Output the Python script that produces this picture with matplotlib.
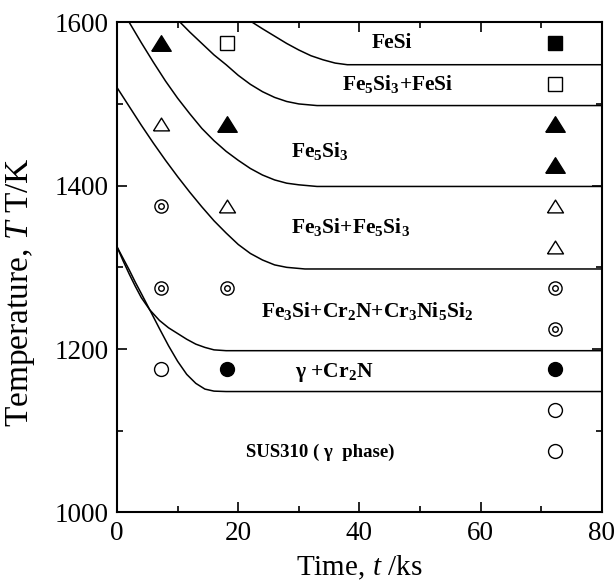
import numpy as np
import matplotlib
matplotlib.use("Agg")
import matplotlib.pyplot as plt

plt.rcParams['font.family'] = ['Liberation Serif', 'DejaVu Serif']
plt.rcParams['mathtext.fontset'] = 'custom'
plt.rcParams['mathtext.rm'] = 'Liberation Serif'
plt.rcParams['mathtext.it'] = 'Liberation Serif:italic'
plt.rcParams['mathtext.bf'] = 'Liberation Serif:bold'

# phase boundary curves (time ks, temperature K)
b1_t = [22.3, 24, 26, 28, 30, 32, 34, 36, 38, 80]
b1_T = [1600, 1592, 1583, 1574, 1566, 1559, 1554, 1550, 1548, 1548]

b2_t = [10.4, 12, 14, 16, 18, 20, 22, 24, 26, 28, 30, 33, 80]
b2_T = [1600, 1588, 1574, 1560, 1548, 1535, 1524, 1515, 1508, 1503, 1500, 1498, 1498]

b3_t = [2, 4, 6, 8, 10, 12, 14, 16, 18, 20, 22, 24, 26, 28, 30, 33, 80]
b3_T = [1600, 1575, 1551, 1528, 1507, 1488, 1470, 1455, 1442, 1431, 1421, 1413, 1407, 1403, 1401, 1399, 1399]

b4_t = [0, 2, 4, 6, 8, 10, 12, 14, 16, 18, 20, 22, 24, 26, 28, 31, 80]
b4_T = [1520, 1497, 1474, 1452, 1431, 1411, 1392, 1374, 1357, 1342, 1328, 1317, 1309, 1303, 1300, 1298, 1298]

b5_t = [0, 1, 2, 3, 4, 5.4, 7, 8.5, 10, 11.5, 13, 14.5, 16, 18, 80]
b5_T = [1325, 1308, 1292, 1277, 1263, 1248, 1235, 1226, 1219, 1212, 1206, 1202, 1199, 1198, 1198]

b6_t = [0, 1, 2, 3, 4, 5.4, 7, 8.5, 10, 11.5, 13, 14.5, 16, 18, 80]
b6_T = [1325, 1311, 1297, 1282, 1268, 1248, 1225, 1204, 1185, 1169, 1158, 1151, 1148.5, 1148, 1148]

# observed phases
ftri_t = [7.3, 18.1, 72.3, 72.3]
ftri_T = [1575, 1475, 1475, 1425]
otri_t = [7.3, 18.1, 72.3, 72.3]
otri_T = [1475, 1375, 1375, 1325]
dcir_t = [7.3, 7.3, 18.1, 72.3, 72.3]
dcir_T = [1375, 1275, 1275, 1275, 1225]
ocir_t = [7.3, 72.3, 72.3]
ocir_T = [1175, 1125, 1075]
fcir_t = [18.1, 72.3]
fcir_T = [1175, 1175]
osq_t = [18.1, 72.3]
osq_T = [1575, 1525]
fsq_t = [72.3]
fsq_T = [1575]

labels = ["FeSi", "Fe$_\\mathbf{5}$Si$_\\mathbf{3}$+FeSi", "Fe$_\\mathbf{5}$Si$_\\mathbf{3}$",
          "Fe$_\\mathbf{3}$Si+Fe$_\\mathbf{5}$Si$_\\mathbf{3}$",
          "Fe$_\\mathbf{3}$Si+Cr$_\\mathbf{2}$N+Cr$_\\mathbf{3}$Ni$_\\mathbf{5}$Si$_\\mathbf{2}$",
          "γ +Cr$_\\mathbf{2}$N", "SUS310 ( γ  phase)"]
label_t = [45.4, 46.4, 33.5, 38.5, 41.2, 35.9, 33.6]
label_T = [1574, 1524, 1443, 1349, 1247, 1171, 1073]
label_size = [15.5, 15.5, 15.5, 15.5, 15.5, 15.5, 13.5]

fig = plt.figure(figsize=(6.16, 5.85), dpi=100)
ax = fig.add_axes([0.19, 0.124, 0.787, 0.838])

for bt, bT in [(b1_t, b1_T), (b2_t, b2_T), (b3_t, b3_T), (b4_t, b4_T), (b5_t, b5_T), (b6_t, b6_T)]:
    ax.plot(bt, bT, color='black', lw=1.1, solid_capstyle='butt')

tri = [(-1, -0.8), (1, -0.8), (0, 0.8), (-1, -0.8)]
ax.plot(ftri_t, ftri_T, ls='none', marker=tri, ms=14, mfc='black', mec='black', mew=1)
ax.plot(otri_t, otri_T, ls='none', marker=tri, ms=11.5, mfc='white', mec='black', mew=1)
ax.plot(dcir_t, dcir_T, ls='none', marker='o', ms=9.5, mfc='white', mec='black', mew=1)
ax.plot(dcir_t, dcir_T, ls='none', marker='o', ms=4, mfc='white', mec='black', mew=1)
ax.plot(ocir_t, ocir_T, ls='none', marker='o', ms=10, mfc='white', mec='black', mew=1)
ax.plot(fcir_t, fcir_T, ls='none', marker='o', ms=10, mfc='black', mec='black', mew=1)
ax.plot(osq_t, osq_T, ls='none', marker='s', ms=9.8, mfc='white', mec='black', mew=1)
ax.plot(fsq_t, fsq_T, ls='none', marker='s', ms=10.5, mfc='black', mec='black', mew=1)

for txt, tx, ty, fs in zip(labels, label_t, label_T, label_size):
    ax.text(tx, ty, txt, ha='center', va='center', fontsize=fs, fontweight='bold')

ax.set_xlim(0, 80)
ax.set_ylim(1000, 1600)
ax.set_xticks([0, 20, 40, 60, 80])
ax.set_xticks([10, 30, 50, 70], minor=True)
ax.set_yticks([1000, 1200, 1400, 1600])
ax.set_yticks([1100, 1300, 1500], minor=True)
ax.tick_params(which='both', direction='in', top=True, right=True, width=1.2, labelsize=19.5, pad=6)
ax.tick_params(which='major', length=7)
ax.tick_params(which='minor', length=4)
for sp in ax.spines.values():
    sp.set_linewidth(1.5)

ax.set_xlabel("Time, $t$ /ks", fontsize=21, labelpad=6)
ax.set_ylabel("Temperature, $T$ T/K", fontsize=24)
ax.yaxis.set_label_coords(-0.165, 0.45)

fig.savefig("out.png", dpi=100)
